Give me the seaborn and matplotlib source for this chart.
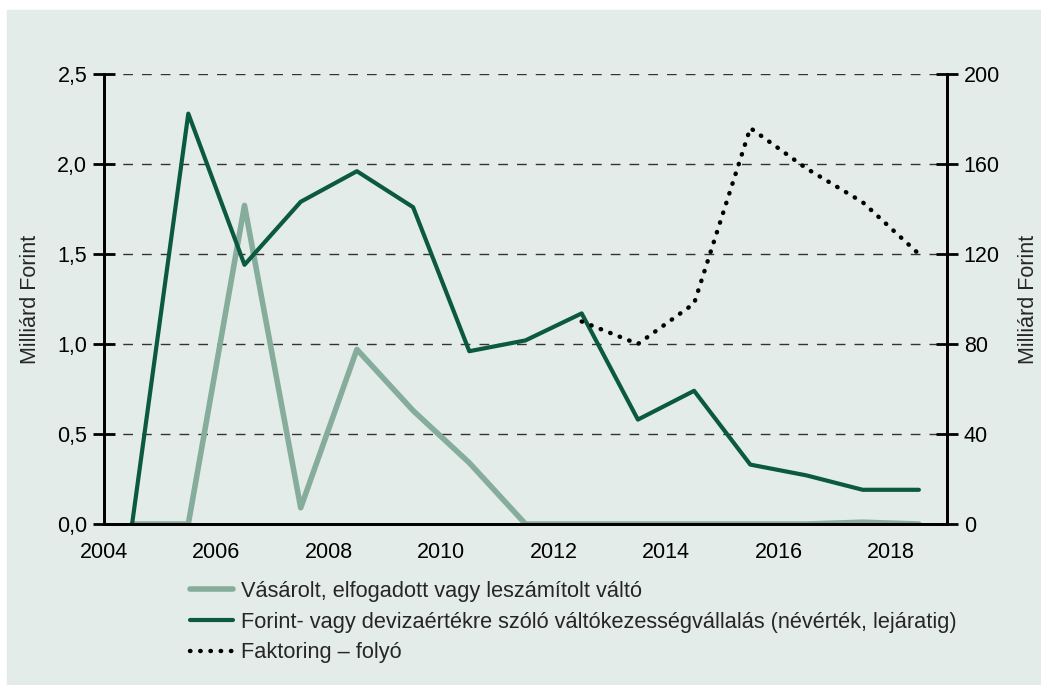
import seaborn as sns
import matplotlib.pyplot as plt
import matplotlib.ticker as mticker
import matplotlib.patches as mpatches
import pandas as pd

years = [2004.5, 2005.5, 2006.5, 2007.5, 2008.5, 2009.5, 2010.5, 2011.5,
         2012.5, 2013.5, 2014.5, 2015.5, 2016.5, 2017.5, 2018.5]
valto = [0, 0, 1.77, 0.09, 0.97, 0.63, 0.34, 0, 0, 0, 0, 0, 0, 0.01, 0]
kezesseg = [0, 2.28, 1.44, 1.79, 1.96, 1.76, 0.96, 1.02, 1.17, 0.58, 0.74,
            0.33, 0.27, 0.19, 0.19]
fakt_years = [2012.5, 2013.5, 2014.5, 2015.5, 2016.5, 2017.5, 2018.5]
faktoring = [90, 80, 98, 176, 158, 143, 120]

labels = ['Vásárolt, elfogadott vagy leszámítolt váltó',
          'Forint- vagy devizaértékre szóló váltókezességvállalás (névérték, lejáratig)',
          'Faktoring – folyó']

bg = '#e4ece9'
light = '#86ac9c'
dark = '#0b5a3f'

sns.set_style('white')
plt.rcParams['font.family'] = ['Liberation Sans', 'DejaVu Sans']
plt.rcParams['font.size'] = 15.5

df = pd.DataFrame({'ev': years, 'valto': valto, 'kezesseg': kezesseg})
df2 = pd.DataFrame({'ev': fakt_years, 'faktoring': faktoring})

fig = plt.figure(figsize=(10.41, 6.85), dpi=100, facecolor='white')
fig.patches.append(mpatches.Rectangle((7 / 1041, 0), 1, 1 - 10 / 685,
                                      transform=fig.transFigure, color=bg, zorder=-10))
ax = fig.add_axes([104 / 1041, 1 - 524 / 685, (947 - 104) / 1041, (524 - 74) / 685])
ax.set_facecolor(bg)
ax2 = ax.twinx()

sns.lineplot(data=df, x='ev', y='valto', ax=ax, color=light, lw=4, label=labels[0], legend=False)
sns.lineplot(data=df, x='ev', y='kezesseg', ax=ax, color=dark, lw=3, label=labels[1], legend=False)
sns.lineplot(data=df2, x='ev', y='faktoring', ax=ax2, color='black', lw=3.2,
             linestyle=(0, (0.1, 2.2)), dash_capstyle='round', label=labels[2], legend=False)

ax.set_xlim(2004, 2019)
ax.set_ylim(0, 2.5)
ax2.set_ylim(0, 200)
ax.set_xticks(range(2004, 2019, 2))
ax.set_yticks([0, 0.5, 1.0, 1.5, 2.0, 2.5])
ax.yaxis.set_major_formatter(mticker.FuncFormatter(lambda v, p: f'{v:.1f}'.replace('.', ',')))
ax2.set_yticks(range(0, 201, 40))

ax.grid(axis='y', color='#333333', linestyle=(0, (7, 6.5)), lw=1)
ax.set_axisbelow(True)
for a in (ax, ax2):
    a.spines['top'].set_visible(False)
    for s in ('left', 'right', 'bottom'):
        a.spines[s].set_color('black')
        a.spines[s].set_linewidth(2)
ax.tick_params(axis='y', direction='inout', length=16, width=2, labelsize=15.5, pad=4, colors='black')
ax2.tick_params(axis='y', direction='inout', length=16, width=2, labelsize=15.5, pad=4, colors='black')
ax.tick_params(axis='x', direction='out', length=7, width=2, labelsize=15.5, pad=6, colors='black')

ax.set_xlabel('')
ax.set_ylabel('Milliárd Forint', fontsize=15.5, labelpad=12)
ax2.set_ylabel('Milliárd Forint', fontsize=15.5, labelpad=13)

handles = ax.get_lines()[:2] + ax2.get_lines()[:1]
fig.legend(handles, labels, loc='upper left', bbox_to_anchor=(181 / 1041, 1 - 572 / 685),
           frameon=False, fontsize=15.7, handlelength=2.0, handletextpad=0.35,
           labelspacing=0.45, borderaxespad=0)

fig.savefig('out.png', dpi=100, facecolor='white')
